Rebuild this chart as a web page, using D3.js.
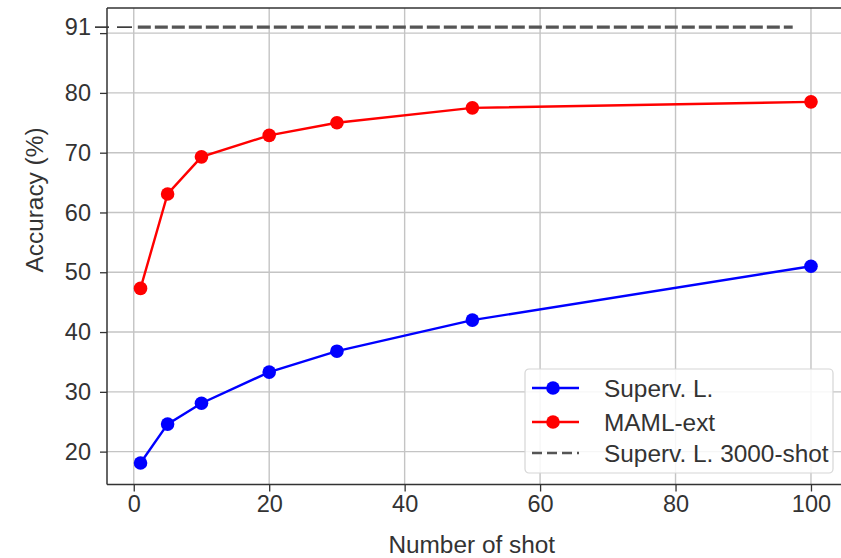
<!DOCTYPE html>
<html>
<head>
<meta charset="utf-8">
<script src="https://cdn.jsdelivr.net/npm/d3@7"></script>
<style>
  html, body { margin: 0; padding: 0; background: #fff; }
  text { font-family: "Liberation Sans", Arial, Helvetica, sans-serif; fill: #333; }
</style>
</head>
<body>
<svg id="chart" width="841" height="558"></svg>
<script>
// ---- data ----
const shots = [1, 5, 10, 20, 30, 50, 100];
const supervL = [18.1, 24.6, 28.1, 33.3, 36.8, 42.0, 51.0];
const mamlExt = [47.3, 63.1, 69.3, 72.9, 75.0, 77.5, 78.5];
const supervL3000 = 91;
const xTicks = [0, 20, 40, 60, 80, 100];
const yTicks = [20, 30, 40, 50, 60, 70, 80, 90];
const yTickLabels = ["20", "30", "40", "50", "60", "70", "80", ""];
const seriesNames = ["Superv. L.", "MAML-ext", "Superv. L. 3000-shot"];
const seriesColors = ["#0000ff", "#ff0000", "#555555"];

// ---- layout ----
const W = 841, H = 558;
const m = { left: 107, right: 844.5, top: 8, bottom: 484.5 };
const tickFont = 23.5, labelFont = 24.4;

const svg = d3.select("#chart");
svg.append("rect").attr("width", W).attr("height", H).attr("fill", "#fff");

const x = d3.scaleLinear().domain([-3.95, 104.95]).range([m.left, m.right]);
const y = d3.scaleLinear().domain([14.5, 94.2]).range([m.bottom, m.top]);

// grid
const grid = svg.append("g");
grid.selectAll("line.gx").data(xTicks).join("line")
  .attr("x1", d => x(d)).attr("x2", d => x(d))
  .attr("y1", m.top).attr("y2", m.bottom)
  .attr("stroke", "#c4c4c4").attr("stroke-width", 1.4);
grid.selectAll("line.gy").data(yTicks).join("line")
  .attr("x1", m.left).attr("x2", m.right)
  .attr("y1", d => y(d)).attr("y2", d => y(d))
  .attr("stroke", "#c4c4c4").attr("stroke-width", 1.4);

// axes
const xAxis = d3.axisBottom(x).tickValues(xTicks).tickSize(7).tickPadding(4).tickFormat(d3.format("d"));
const gx = svg.append("g").attr("transform", `translate(0,${m.bottom})`).call(xAxis);
gx.select(".domain").remove();
gx.selectAll(".tick line").attr("stroke", "#333").attr("stroke-width", 1.3);
gx.selectAll(".tick text").attr("font-size", tickFont).attr("fill", "#333")
  .attr("font-family", "Liberation Sans, Arial, sans-serif");

const yAxis = d3.axisLeft(y).tickValues(yTicks).tickSize(7).tickPadding(9)
  .tickFormat((d, i) => yTickLabels[i]);
const gy = svg.append("g").attr("transform", `translate(${m.left},0)`).call(yAxis);
gy.select(".domain").remove();
gy.selectAll(".tick line").attr("stroke", "#333").attr("stroke-width", 1.3);
gy.selectAll(".tick text").attr("font-size", tickFont).attr("fill", "#333")
  .attr("font-family", "Liberation Sans, Arial, sans-serif");

// 91 tick
const g91 = svg.append("g").attr("transform", `translate(${m.left},${y(supervL3000)})`);
g91.append("line").attr("x1", -12).attr("x2", 2).attr("stroke", "#222").attr("stroke-width", 1.5);
g91.append("text").attr("x", -16).attr("dy", "0.35em").attr("text-anchor", "end")
  .attr("font-size", tickFont).text(String(supervL3000));

// dashed reference line
svg.append("line")
  .attr("x1", m.left + 10).attr("x2", x(0))
  .attr("y1", y(supervL3000)).attr("y2", y(supervL3000))
  .attr("stroke", "#222").attr("stroke-width", 1.5).attr("stroke-dasharray", "15,7");
svg.append("line")
  .attr("x1", x(0.6)).attr("x2", x(97.3))
  .attr("y1", y(supervL3000)).attr("y2", y(supervL3000))
  .attr("stroke", seriesColors[2]).attr("stroke-width", 3.2).attr("stroke-dasharray", "13,4");

// spines
const sp = svg.append("g").attr("stroke", "#333").attr("stroke-width", 1.5).attr("fill", "none");
sp.append("line").attr("x1", m.left).attr("x2", m.left).attr("y1", m.top).attr("y2", m.bottom);
sp.append("line").attr("x1", m.left).attr("x2", m.right).attr("y1", m.bottom).attr("y2", m.bottom);
sp.append("line").attr("x1", m.left).attr("x2", m.right).attr("y1", m.top).attr("y2", m.top);
sp.append("line").attr("x1", m.right).attr("x2", m.right).attr("y1", m.top).attr("y2", m.bottom);

// series
const line = d3.line().x(d => x(d[0])).y(d => y(d[1]));
[[supervL, seriesColors[0]], [mamlExt, seriesColors[1]]].forEach(([vals, col]) => {
  const pts = shots.map((s, i) => [s, vals[i]]);
  svg.append("path").datum(pts).attr("d", line)
    .attr("fill", "none").attr("stroke", col).attr("stroke-width", 2.4);
  svg.append("g").selectAll("circle").data(pts).join("circle")
    .attr("cx", d => x(d[0])).attr("cy", d => y(d[1])).attr("r", 6.8).attr("fill", col);
});

// labels
svg.append("text").attr("x", (m.left + m.right) / 2 - 4).attr("y", 553)
  .attr("text-anchor", "middle").attr("font-size", labelFont).text("Number of shot");
svg.append("text").attr("transform", `translate(43,200) rotate(-90)`)
  .attr("text-anchor", "middle").attr("font-size", labelFont).text("Accuracy (%)");

// legend
const lg = svg.append("g").attr("transform", "translate(525,369)");
lg.append("rect").attr("width", 308).attr("height", 104).attr("rx", 4)
  .attr("fill", "#fff").attr("fill-opacity", 0.85).attr("stroke", "#d6d6d6").attr("stroke-width", 1.2);
const rowsY = [19, 53, 84];
seriesNames.forEach((name, i) => {
  const r = lg.append("g").attr("transform", `translate(0,${rowsY[i]})`);
  if (i < 2) {
    r.append("line").attr("x1", 7).attr("x2", 54).attr("stroke", seriesColors[i]).attr("stroke-width", 2.5);
    r.append("circle").attr("cx", 28).attr("r", 6.8).attr("fill", seriesColors[i]);
  } else {
    r.append("line").attr("x1", 7).attr("x2", 54).attr("stroke", seriesColors[i])
      .attr("stroke-width", 2.5).attr("stroke-dasharray", "10,5");
  }
  r.append("text").attr("x", 79).attr("dy", "0.35em").attr("font-size", labelFont).text(name);
});
</script>
</body>
</html>
